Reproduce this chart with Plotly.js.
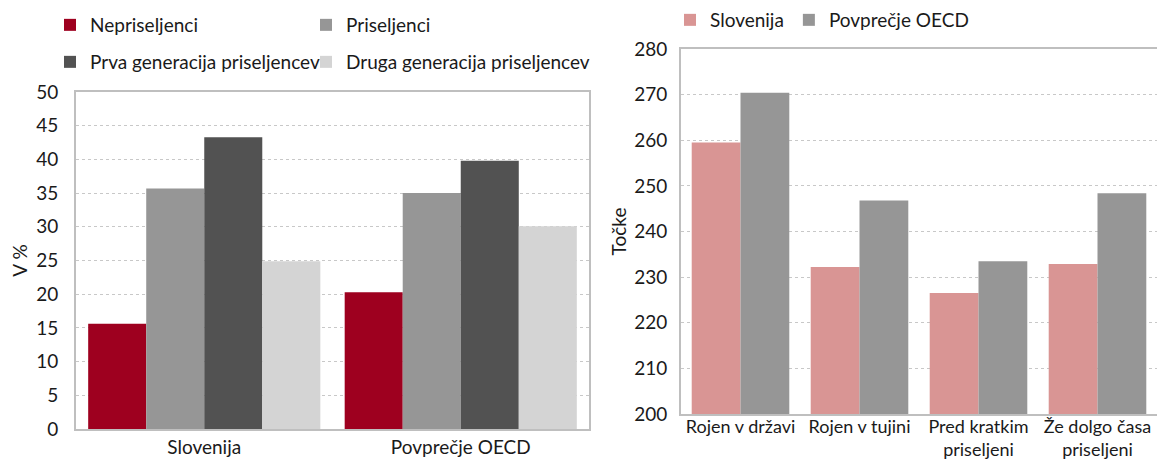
<!DOCTYPE html>
<html>
<head>
<meta charset="utf-8">
<script src="https://cdn.plot.ly/plotly-3.0.1.min.js"></script>
<style>html,body{margin:0;padding:0;background:#fff;}#chart{width:1157px;height:460px;}</style>
</head>
<body>
<div id="chart"></div>
<script>
// Left chart data
const leftCategories = ["Slovenija", "Povprečje OECD"];
const nepriseljenci = [15.6, 20.3];
const priseljenci = [35.7, 35.0];
const prvaGeneracija = [43.3, 39.8];
const drugaGeneracija = [24.9, 30.1];
const leftTicks = [0, 5, 10, 15, 20, 25, 30, 35, 40, 45, 50];

// Right chart data
const rightCategories = ["Rojen v državi", "Rojen v tujini", "Pred kratkim<br>priseljeni", "Že dolgo časa<br>priseljeni"];
const slovenija = [259.5, 232.2, 226.5, 232.9];
const povprecjeOECD = [270.4, 246.8, 233.5, 248.4];
const rightTicks = [200, 210, 220, 230, 240, 250, 260, 270, 280];

const W = 1157, H = 460;
const px = x => x / W;
const py = y => 1 - y / H;
const FONT = "Lato, 'Liberation Sans', sans-serif";
const TXT = "#1a1a1a";

const traces = [
  {type: "bar", name: "Nepriseljenci", x: leftCategories, y: nepriseljenci, marker: {color: "#9e001f"}, xaxis: "x", yaxis: "y", legend: "legend"},
  {type: "bar", name: "Priseljenci", x: leftCategories, y: priseljenci, marker: {color: "#969696"}, xaxis: "x", yaxis: "y", legend: "legend2"},
  {type: "bar", name: "Prva generacija priseljencev", x: leftCategories, y: prvaGeneracija, marker: {color: "#525252"}, xaxis: "x", yaxis: "y", legend: "legend3"},
  {type: "bar", name: "Druga generacija priseljencev", x: leftCategories, y: drugaGeneracija, marker: {color: "#d4d4d4"}, xaxis: "x", yaxis: "y", legend: "legend4"},
  {type: "bar", name: "Slovenija", x: rightCategories, y: slovenija, marker: {color: "#d99594"}, xaxis: "x2", yaxis: "y2", legend: "legend5", width: 0.41, offset: -0.41},
  {type: "bar", name: "Povprečje OECD", x: rightCategories, y: povprecjeOECD, marker: {color: "#969696"}, xaxis: "x2", yaxis: "y2", legend: "legend5", width: 0.41, offset: 0}
];

const axisLine = {showline: true, linecolor: "#bfbfbf", linewidth: 2, mirror: true, zeroline: false};
const legendBase = {orientation: "h", font: {family: FONT, size: 19, color: TXT}, bgcolor: "rgba(0,0,0,0)", xanchor: "left", yanchor: "middle", traceorder: "normal", itemclick: false};

const layout = {
  width: W, height: H,
  margin: {l: 0, r: 0, t: 0, b: 0},
  paper_bgcolor: "#fff", plot_bgcolor: "#fff",
  font: {family: FONT, size: 19, color: TXT},
  barmode: "group",
  bargap: 0.095, bargroupgap: 0,
  showlegend: true,
  xaxis: Object.assign({domain: [px(76), px(589)], anchor: "y", showgrid: false, ticks: "", tickfont: {size: 19}}, axisLine),
  yaxis: Object.assign({domain: [py(429), py(92)], anchor: "x", range: [0, 50], tickvals: leftTicks, showgrid: true, gridcolor: "#c8c8c8", griddash: "dot", gridwidth: 1, ticks: "outside", ticklen: 12, tickcolor: "rgba(0,0,0,0)", tickfont: {size: 19},
    title: {text: "V %", font: {size: 19}, standoff: 4}}, axisLine),
  xaxis2: Object.assign({domain: [px(681), 1], anchor: "y2", showgrid: false, ticks: "", ticklabelstandoff: -5, tickfont: {size: 18}}, axisLine),
  yaxis2: Object.assign({domain: [py(414), py(49)], anchor: "x2", range: [200, 280], tickvals: rightTicks, showgrid: true, gridcolor: "#c8c8c8", griddash: "dot", gridwidth: 1, ticks: "outside", ticklen: 8, tickcolor: "rgba(0,0,0,0)", tickfont: {size: 19},
    title: {text: "Točke", font: {size: 19}, standoff: 2}}, axisLine),
  legend: Object.assign({}, legendBase, {x: px(50), y: py(25)}),
  legend2: Object.assign({}, legendBase, {x: px(306), y: py(25)}),
  legend3: Object.assign({}, legendBase, {x: px(50), y: py(62)}),
  legend4: Object.assign({}, legendBase, {x: px(306), y: py(62)}),
  legend5: Object.assign({}, legendBase, {x: px(670), y: py(20)})
};

Plotly.newPlot("chart", traces, layout, {displayModeBar: false, staticPlot: true});
</script>
</body>
</html>
